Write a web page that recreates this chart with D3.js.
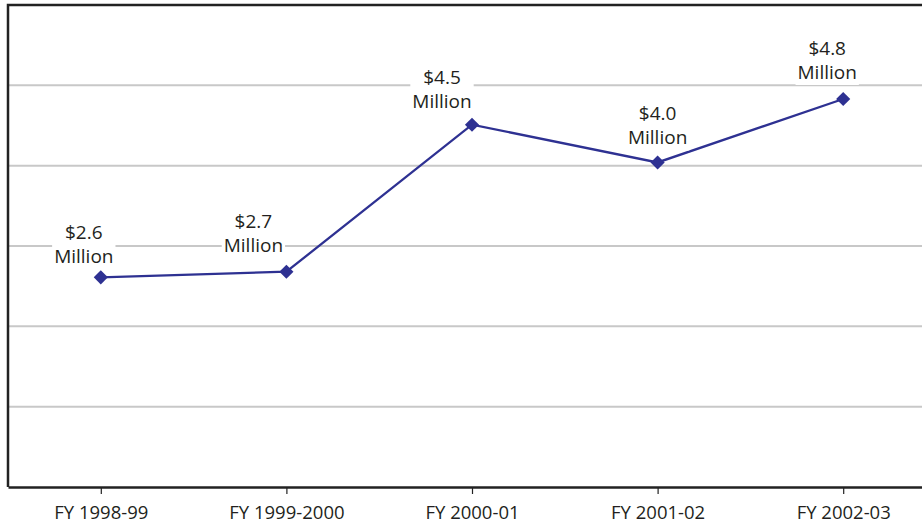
<!DOCTYPE html>
<html>
<head>
<meta charset="utf-8">
<script src="https://cdn.jsdelivr.net/npm/d3@7"></script>
<style>
  body { margin: 0; background: #fff; }
  svg { display: block; font-family: "Open Sans", sans-serif; }
</style>
</head>
<body>
<div id="chart"></div>
<script>
// fiscal years on the x axis
const years = ["FY 1998-99", "FY 1999-2000", "FY 2000-01", "FY 2001-02", "FY 2002-03"];
// amounts in millions of dollars
const amounts = [2.61, 2.68, 4.51, 4.04, 4.83];
const gridTicks = [1, 2, 3, 4, 5];

// hand placed label nudges (px) relative to the default spot above each point
const labelNudge = [[-17, 4], [-33, -2], [-30, 1], [0, 0], [-16, -2]];

const W = 922, H = 526;
const mLeft = 8, mTop = 5, mBottom = 487, mRight = 936;

const svg = d3.select("#chart").append("svg")
    .attr("width", W)
    .attr("height", H);

const x = d3.scalePoint()
    .domain(years)
    .range([mLeft, mRight])
    .padding(0.5);

const y = d3.scaleLinear()
    .domain([0, 6])
    .range([mBottom, mTop]);

// grid lines
svg.append("g")
  .selectAll("line")
  .data(gridTicks)
  .enter().append("line")
    .attr("x1", mLeft)
    .attr("x2", mRight)
    .attr("y1", d => y(d))
    .attr("y2", d => y(d))
    .style("stroke", "#c8c8c8")
    .style("stroke-width", 2);

// frame: top and left
svg.append("path")
    .attr("d", "M" + mLeft + "," + mBottom + "V" + mTop + "H" + mRight)
    .style("fill", "none")
    .style("stroke", "#222")
    .style("stroke-width", 2.5);

// x axis
const xAxis = svg.append("g")
    .attr("transform", "translate(0," + mBottom + ")")
    .call(d3.axisBottom(x).tickSize(7).tickSizeOuter(0).tickPadding(12));
xAxis.select(".domain").style("stroke", "#222").style("stroke-width", 2.5);
xAxis.selectAll(".tick line").style("stroke", "#222").style("stroke-width", 1.2);
xAxis.selectAll(".tick text")
    .style("font-family", "'Open Sans', sans-serif")
    .style("font-size", "18.5px")
    .style("fill", "#231f20");

const pts = years.map((d, i) => ({ year: d, value: amounts[i], nudge: labelNudge[i] }));

// line
svg.append("path")
    .datum(pts)
    .attr("d", d3.line().x(d => x(d.year)).y(d => y(d.value)))
    .style("fill", "none")
    .style("stroke", "#2e3192")
    .style("stroke-width", 2.3);

// value labels with white background
const lab = svg.append("g")
  .selectAll("g")
  .data(pts)
  .enter().append("g")
    .attr("transform", d => "translate(" + (x(d.year) + d.nudge[0]) + "," + (y(d.value) + d.nudge[1]) + ")");

lab.each(function(d) {
  const g = d3.select(this);
  const t = g.append("text")
      .attr("text-anchor", "middle")
      .style("font-size", "19px")
      .style("fill", "#231f20");
  t.append("tspan").attr("x", 0).attr("y", -42).text("$" + d3.format(".1f")(d.value));
  t.append("tspan").attr("x", 0).attr("y", -18).text("Million");
  const bb = t.node().getBBox();
  g.insert("rect", "text")
      .attr("x", bb.x - 2)
      .attr("y", bb.y)
      .attr("width", bb.width + 4)
      .attr("height", bb.height)
      .style("fill", "#fff");
});

// diamond markers
svg.append("g")
  .selectAll("path")
  .data(pts)
  .enter().append("path")
    .attr("transform", d => "translate(" + x(d.year) + "," + y(d.value) + ") rotate(45)")
    .attr("d", "M-5,-5H5V5H-5Z")
    .style("fill", "#2e3192");
</script>
</body>
</html>
